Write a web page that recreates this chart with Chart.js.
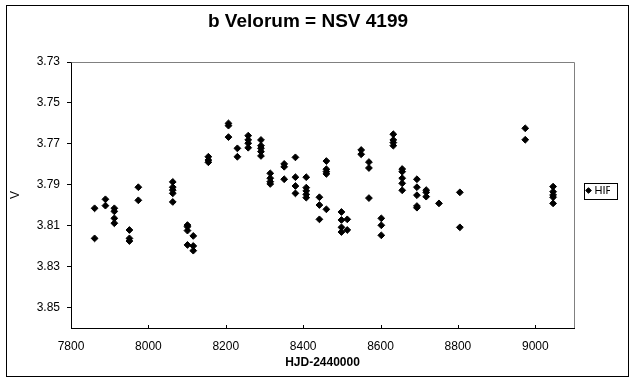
<!DOCTYPE html>
<html>
<head>
<meta charset="utf-8">
<script src="https://cdn.jsdelivr.net/npm/chart.js@4"></script>
<style>
  html, body { margin: 0; padding: 0; background: #fff; }
  canvas { display: block; }
</style>
</head>
<body>
<canvas id="c" width="634" height="381"></canvas>
<script>
const titleText = 'b Velorum = NSV 4199';
const xTitle = 'HJD-2440000';
const yTitle = 'V';
const seriesName = 'HIP';
const xTicks = [7800, 8000, 8200, 8400, 8600, 8800, 9000];
const yTicks = [3.73, 3.75, 3.77, 3.79, 3.81, 3.83, 3.85];
const xMin = 7800, xMax = 9100;
const yMin = 3.73, yMax = 3.86;

const hjd = [
  7861, 7861,
  7889, 7889,
  7912, 7912, 7912, 7912,
  7951, 7951, 7951,
  7974, 7974,
  8063, 8063, 8063, 8063, 8063,
  8101, 8101, 8101, 8101,
  8116, 8116, 8116,
  8155, 8155, 8155,
  8207, 8207, 8207,
  8230, 8230,
  8258, 8258, 8258, 8258,
  8291, 8291, 8291, 8291, 8291,
  8315, 8315, 8315, 8315,
  8351, 8351, 8351,
  8380, 8380, 8380, 8380,
  8408, 8408, 8408, 8408, 8408,
  8442, 8442, 8442,
  8460, 8460, 8460, 8460, 8460,
  8499, 8499, 8499, 8499,
  8514, 8514,
  8550, 8550,
  8570, 8570, 8570,
  8602, 8602, 8602,
  8633, 8633, 8633, 8633,
  8656, 8656, 8656, 8656, 8656,
  8694, 8694, 8694, 8694, 8694,
  8718, 8718, 8718,
  8751,
  8805, 8805,
  8974, 8974,
  9046, 9046, 9046, 9046, 9046
];
const vmag = [
  3.8015, 3.8162,
  3.7971, 3.8002,
  3.8015, 3.8030, 3.8064, 3.8088,
  3.8121, 3.8162, 3.8175,
  3.7912, 3.7976,
  3.7886, 3.7912, 3.7926, 3.7942, 3.7984,
  3.8097, 3.8105, 3.8124, 3.8194,
  3.8150, 3.8199, 3.8222,
  3.7763, 3.7779, 3.7790,
  3.7600, 3.7611, 3.7667,
  3.7722, 3.7763,
  3.7660, 3.7681, 3.7697, 3.7719,
  3.7681, 3.7709, 3.7722, 3.7738, 3.7759,
  3.7844, 3.7868, 3.7885, 3.7896,
  3.7798, 3.7812, 3.7873,
  3.7766, 3.7863, 3.7906, 3.7942,
  3.7863, 3.7914, 3.7930, 3.7947, 3.7963,
  3.7961, 3.7999, 3.8069,
  3.7784, 3.7824, 3.7836, 3.7847, 3.8020,
  3.8033, 3.8072, 3.8108, 3.8131,
  3.8069, 3.8121,
  3.7730, 3.7751,
  3.7789, 3.7818, 3.7965,
  3.8064, 3.8098, 3.8147,
  3.7653, 3.7681, 3.7694, 3.7709,
  3.7823, 3.7836, 3.7868, 3.7893, 3.7927,
  3.7873, 3.7912, 3.7951, 3.8004, 3.8012,
  3.7926, 3.7937, 3.7958,
  3.7991,
  3.7937, 3.8108,
  3.7624, 3.7680,
  3.7909, 3.7934, 3.7950, 3.7961, 3.7991
];

const points = hjd.map((d, i) => ({ x: d, y: vmag[i] }));

Chart.defaults.font.family = '"Liberation Sans", Arial, sans-serif';
Chart.defaults.color = '#000';

const decor = {
  id: 'decor',
  beforeDraw(chart) {
    const ctx = chart.ctx;
    ctx.save();
    ctx.fillStyle = '#fff';
    ctx.fillRect(0, 0, chart.width, chart.height);
    ctx.restore();
  },
  afterDraw(chart) {
    const ctx = chart.ctx;
    const a = chart.chartArea;
    ctx.save();
    ctx.strokeStyle = '#000';
    ctx.lineWidth = 1;
    ctx.strokeRect(6.5, 5.5, 622, 371);
    ctx.strokeStyle = '#808080';
    ctx.beginPath();
    ctx.moveTo(Math.round(a.left) + 0.5, Math.round(a.top) + 0.5);
    ctx.lineTo(Math.round(a.right) + 0.5, Math.round(a.top) + 0.5);
    ctx.lineTo(Math.round(a.right) + 0.5, Math.round(a.bottom));
    ctx.stroke();
    const xs = chart.scales.x;
    ctx.strokeStyle = '#000';
    ctx.beginPath();
    xTicks.forEach(v => {
      const px = Math.round(xs.getPixelForValue(v)) + 0.5;
      ctx.moveTo(px, Math.round(a.bottom) + 1);
      ctx.lineTo(px, Math.round(a.bottom) - 3);
    });
    ctx.stroke();
    const lg = chart.legend;
    if (lg && lg.legendHitBoxes && lg.legendHitBoxes.length) {
      const hb = lg.legendHitBoxes[0];
      ctx.strokeStyle = '#000';
      ctx.strokeRect(Math.round(hb.left - 4) + 0.5, Math.round(hb.top - 2) + 0.5,
                     Math.round(hb.width + 8), 16);
    }
    ctx.restore();
  }
};

new Chart(document.getElementById('c'), {
  type: 'scatter',
  data: {
    datasets: [{
      label: seriesName,
      data: points,
      pointStyle: 'rectRot',
      pointRadius: 3.4,
      pointHoverRadius: 3.4,
      backgroundColor: '#000',
      borderColor: '#000',
      borderWidth: 1
    }]
  },
  options: {
    responsive: false,
    animation: false,
    devicePixelRatio: 1,
    layout: { padding: { left: 6, right: 24, top: 6, bottom: 6 } },
    plugins: {
      title: {
        display: true,
        text: titleText,
        color: '#000',
        font: { size: 19, weight: 'bold' },
        padding: { top: 4, bottom: 29.2 }
      },
      legend: {
        display: true,
        position: 'right',
        maxWidth: 36,
        labels: {
          usePointStyle: true,
          boxWidth: 1,
          boxHeight: 4,
          padding: 14,
          color: '#000',
          font: { size: 11 }
        }
      },
      tooltip: { enabled: false }
    },
    scales: {
      x: {
        type: 'linear',
        min: xMin,
        max: xMax,
        afterBuildTicks: s => { s.ticks = xTicks.map(v => ({ value: v })); },
        afterFit: s => { s.height = 47; },
        ticks: {
          padding: 11,
          color: '#000',
          font: { size: 12 },
          maxRotation: 0,
          callback: v => String(v)
        },
        grid: { display: true, drawOnChartArea: false, drawTicks: false },
        border: { display: true, color: '#000', width: 1 },
        title: {
          display: true,
          text: xTitle,
          color: '#000',
          font: { size: 12, weight: 'bold' },
          padding: { top: 2, bottom: 5 }
        }
      },
      y: {
        type: 'linear',
        reverse: true,
        min: yMin,
        max: yMax,
        afterBuildTicks: s => { s.ticks = yTicks.map(v => ({ value: v })); },
        afterFit: s => { s.width = 65; },
        ticks: {
          padding: 7,
          color: '#000',
          font: { size: 12 },
          callback: v => Number(v).toFixed(2)
        },
        grid: { display: true, drawOnChartArea: false, drawTicks: true, tickLength: 4, color: '#000' },
        border: { display: true, color: '#000', width: 1 },
        title: {
          display: true,
          text: yTitle,
          color: '#000',
          font: { size: 12 },
          padding: { top: 2.3, bottom: 4 }
        }
      }
    }
  },
  plugins: [decor]
});
</script>
</body>
</html>
